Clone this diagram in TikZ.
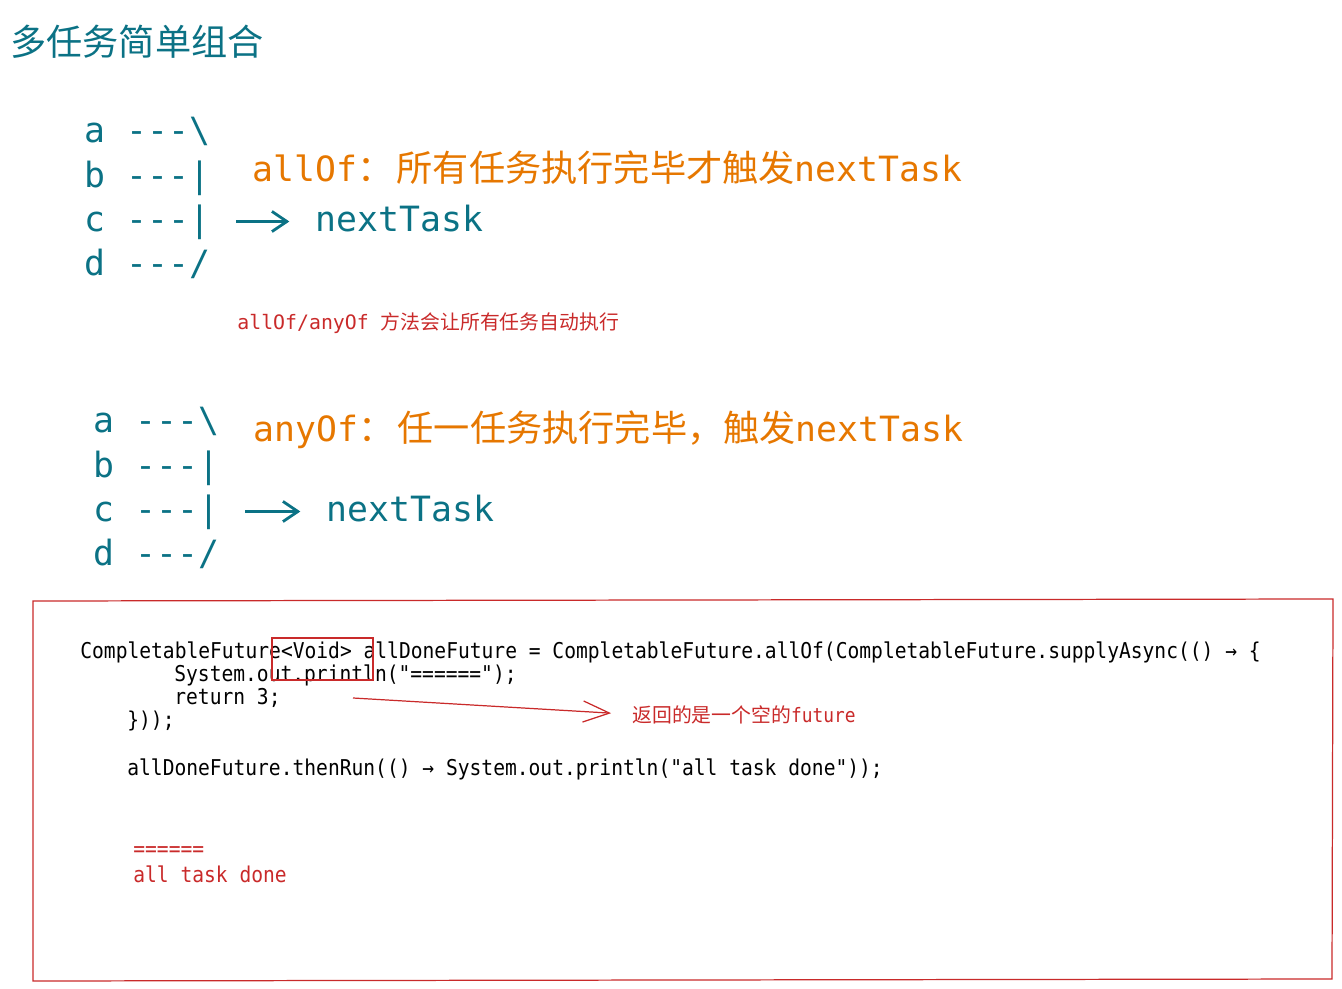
\documentclass[tikz,border=0pt]{standalone}
\usepackage{fontspec}
\usepackage{tikz}
\usetikzlibrary{arrows.meta, positioning}

\newfontfamily\cjkf{Noto Sans CJK SC}
\newfontfamily\monof[Ligatures=TeXOff]{DejaVu Sans Mono}
\newfontfamily\codef[Ligatures=TeXOff, FakeStretch=0.9]{DejaVu Sans Mono}
\newcommand\bigcjk{\fontsize{20.6}{24}\selectfont\cjkf}

\definecolor{tealtext}{HTML}{0B7285}
\definecolor{orangetext}{HTML}{E67700}
\definecolor{redmark}{HTML}{C92A2A}

\begin{document}
\begin{tikzpicture}[
            x=0.02cm, y=-0.02cm,
            heading/.style={anchor=base west, inner sep=0pt, text=tealtext,
                            font=\fontsize{20.6}{24}\selectfont\cjkf},
            flow/.style={inner sep=0pt, text=tealtext, text height=15pt, text depth=4pt,
                         font=\fontsize{19.8}{24}\selectfont\monof},
            hint/.style={anchor=base west, inner sep=0pt, text=orangetext,
                         font=\fontsize{19.8}{24}\selectfont\monof},
            note/.style={anchor=base west, inner sep=0pt, text=redmark,
                         font=\fontsize{11.3}{13}\selectfont\monof},
            codeline/.style={anchor=base west, inner sep=0pt,
                             font=\fontsize{12.4}{14}\selectfont\codef},
            result/.style={codeline, text=redmark},
            arr/.style={-{Straight Barb[length=8.5pt, width=11.5pt]}, line width=1.6pt,
                        tealtext, shorten <=0.52cm, shorten >=0.52cm},
            redarr/.style={-{Straight Barb[length=15pt, width=12pt]}, line width=0.7pt,
                           redmark, shorten >=0.42cm},
            frame/.style={draw=redmark, line width=0.7pt}]

            \useasboundingbox (0,0) rectangle (1342,989);

            %% ── Title ─────────────────────────────────────────────────────
            \node[heading] (title) at (10,56) {多任务简单组合};

            %% ── allOf ─────────────────────────────────────────────────────
            \node[flow, anchor=base west] (a1) at (84,143) {a ---\textbackslash};
            \node[flow, below=0.2cm of a1]  (b1) {b ---|};
            \node[flow, below=0.2cm of b1]  (c1) {c ---|};
            \node[flow, below=0.2cm of c1]  (d1) {d ---/};
            \node[flow, right=2.1cm of c1]  (next1) {nextTask};
            \node[hint] (allof) at (252,182)
                {allOf{\bigcjk ：\hspace{2pt}所有任务执行完毕才触发}nextTask};

            \node[note] (rule) at (237,330)
                {allOf/anyOf {\cjkf 方法会让所有任务自动执行}};

            %% ── anyOf ─────────────────────────────────────────────────────
            \node[flow, anchor=base west] (a2) at (93,433) {a ---\textbackslash};
            \node[flow, below=0.2cm of a2]  (b2) {b ---|};
            \node[flow, below=0.2cm of b2]  (c2) {c ---|};
            \node[flow, below=0.2cm of c2]  (d2) {d ---/};
            \node[flow, right=2.14cm of c2] (next2) {nextTask};
            \node[hint] (anyof) at (253,442)
                {anyOf{\bigcjk ：\hspace{2pt}任一任务执行完毕，触发}nextTask};

            \draw[arr] (c1) -- (next1);
            \draw[arr] (c2) -- (next2);

            %% ── Code sample ───────────────────────────────────────────────
            \draw[frame] (33,601) -- (1333,599) -- (1332,979) -- (33,981) -- cycle;

            \node[codeline] (line1) at (80,658)
                {CompletableFuture<Void> allDoneFuture = CompletableFuture.allOf(CompletableFuture.supplyAsync(() → \{};
            \node[codeline] (line2) at (174,681) {System.out.println("======");};
            \node[codeline] (line3) at (174,704) {return 3;};
            \node[codeline] (line4) at (127,727) {\}));};
            \node[codeline] (line5) at (127,775)
                {allDoneFuture.thenRun(() → System.out.println("all task done"));};

            \node[result] (out1) at (133,856) {======};
            \node[result] (out2) at (133,882) {all task done};

            %% ── Void remark ───────────────────────────────────────────────
            \node[frame, minimum width=2.02cm, minimum height=0.84cm] (voidbox) at (322.5,659) {};
            \coordinate (tail) at (353,698);
            \node[note] (empty) at (632,722)
                {{\cjkf 返回的是一个空的}{\codef future}};
            \draw[redarr] (tail) -- (empty.west);

        \end{tikzpicture}
\end{document}
